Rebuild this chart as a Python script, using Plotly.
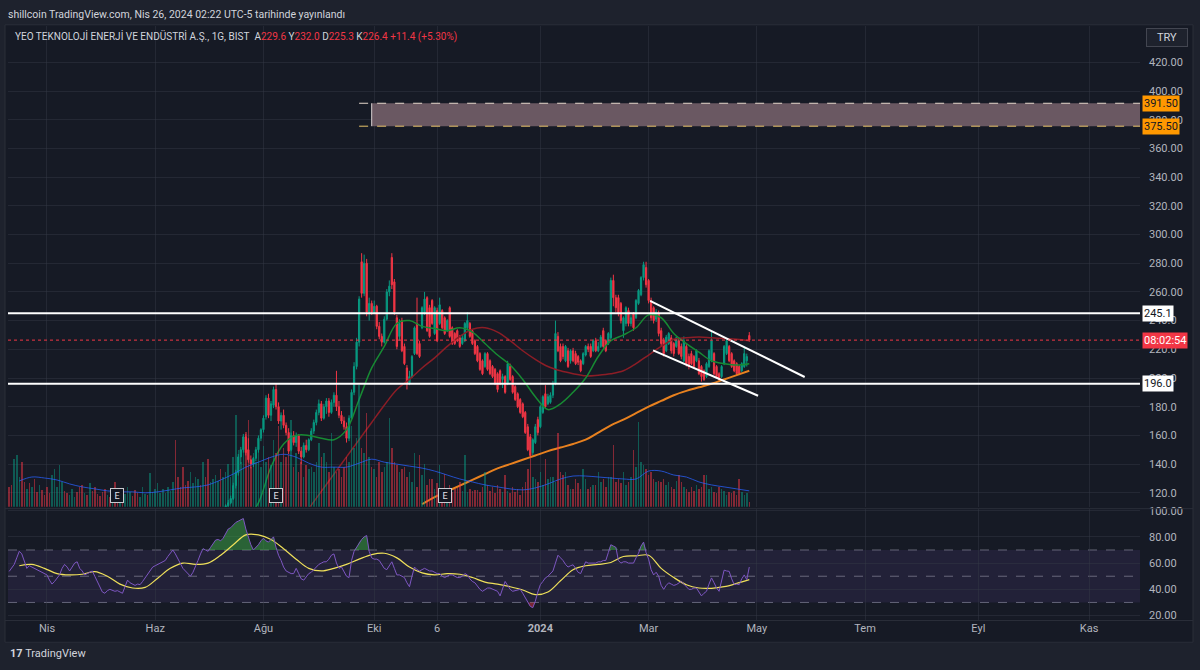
import pandas as pd
import numpy as np
import plotly.graph_objects as go

W, H = 1200, 670
LAST_DATE = "2024-04-26"

# ---------------- data ----------------
# RSI (14) per daily bar, ending on LAST_DATE
rsi_values = [
    53.7, 56, 59, 64, 69, 67, 62, 56, 58, 57,
    56, 55, 54.6, 53, 52, 51, 47, 44, 46, 49,
    51, 56, 59, 57, 54, 57, 60, 61, 56, 54,
    51, 52, 53, 54, 50, 46, 43, 38, 37, 39,
    40, 39, 38.5, 39, 38, 37, 42, 47, 45, 44,
    43, 44, 43.6, 46, 48.7, 51, 54, 57, 58, 59,
    60, 61, 62, 65, 68, 70, 67, 63, 59, 56,
    54, 52, 50, 53, 57, 62, 67, 71, 70, 69,
    72, 75, 77.6, 78, 77, 79, 82, 86, 87, 89,
    91, 92, 93, 94, 86, 79, 74, 70, 72, 74,
    77, 79, 77, 76, 78, 80, 72, 66, 62, 57,
    54, 53, 52, 52, 56, 52, 48, 47, 50, 52,
    53, 55, 57, 59, 60, 61, 61, 63, 66, 67,
    60, 56, 57, 54, 50, 49, 62, 69, 72, 76,
    78, 80, 81, 69, 64, 63, 63, 62, 59, 56,
    55, 58, 61, 56, 51, 51, 50, 49, 45, 42,
    50, 57, 55, 54, 55, 56, 55, 54, 54, 53,
    52, 52, 50, 49, 50, 51, 51, 50, 49, 49,
    50, 52, 51, 48, 46, 45, 42, 40, 38.5, 40,
    41, 41, 40, 39, 38.5, 35, 41, 46, 43, 40,
    38.5, 39, 40, 40, 37, 34, 30, 27, 26, 31,
    38, 43.6, 46, 48.7, 50, 52, 54, 60, 66, 64,
    62, 59, 57, 58, 58.7, 56, 53, 52, 57, 61,
    60, 60, 59.8, 60, 61, 61, 62, 62, 68, 74,
    73, 72, 62, 60, 61, 61, 60, 60, 60, 64,
    67.5, 73, 76, 68, 63, 55, 51, 53, 50, 43,
    40, 43, 45, 44, 43, 43.6, 45, 46, 44, 42,
    40, 40, 41, 41, 38, 35, 37, 38.5, 44, 48.7,
    45, 41, 38.5, 47, 54.6, 54, 53.7, 48, 43.6, 44,
    43.6, 48, 51, 47.4, 57,
]
# RSI-based moving average, one value every 5 bars (last = LAST_DATE)
rsi_ma_values = [
    58, 59, 56, 52, 51, 51.5, 53.5, 50, 44, 41,
    41.5, 48.5, 56, 60, 59, 60, 66, 74, 81.5, 81.5,
    78, 71, 63, 56, 54, 56, 59, 63, 66.5, 67.5,
    64, 57, 52.5, 51, 52, 51.5, 49, 45.5, 44, 42,
    39.5, 36, 38, 46.5, 55, 58, 59, 60.5, 65, 65.5,
    66, 56, 49, 43.5, 41, 40.8, 42, 44.5, 47.4,
]
# volume per bar (x100K lots)
volume_values = [
    20, 22, 48, 52, 30, 45, 25, 18, 24, 20,
    28, 15, 22, 17, 12, 20, 14, 32, 38, 20,
    42, 25, 16, 14, 12, 18, 10, 15, 20, 22,
    14, 12, 24, 16, 20, 13, 11, 15, 18, 12,
    10, 14, 25, 11, 16, 9, 13, 20, 15, 11,
    17, 14, 10, 20, 13, 12, 34, 15, 18, 24,
    14, 18, 14, 20, 16, 25, 68, 30, 20, 40,
    22, 26, 35, 24, 30, 28, 22, 45, 30, 48,
    25, 28, 32, 26, 38, 30, 35, 43, 30, 50,
    93, 58, 45, 70, 76, 88, 40, 55, 45, 60,
    40, 62, 45, 50, 42, 68, 55, 82, 45, 60,
    50, 52, 88, 40, 55, 35, 45, 30, 42, 38,
    40, 35, 45, 65, 50, 55, 45, 35, 75, 40,
    35, 38, 30, 40, 50, 45, 82, 60, 70, 123,
    60, 55, 95, 50, 40, 38, 30, 45, 35, 40,
    45, 90, 60, 45, 42, 35, 38, 40, 30, 35,
    25, 55, 20, 52, 32, 43, 22, 28, 28, 18,
    24, 42, 18, 33, 16, 22, 15, 18, 20, 25,
    16, 52, 15, 18, 16, 17, 17, 15, 20, 35,
    22, 16, 20, 14, 22, 18, 15, 32, 16, 14,
    20, 15, 18, 12, 20, 25, 38, 50, 30, 28,
    25, 35, 22, 48, 28, 30, 30, 25, 75, 35,
    32, 35, 22, 18, 18, 28, 24, 18, 38, 28,
    18, 20, 22, 22, 35, 25, 28, 20, 30, 30,
    63, 25, 28, 24, 35, 22, 25, 30, 58, 40,
    86, 45, 42, 38, 32, 35, 28, 25, 26, 25,
    28, 22, 25, 20, 18, 26, 32, 25, 20, 18,
    15, 20, 16, 22, 18, 20, 32, 32, 18, 20,
    15, 14, 20, 18, 16, 12, 15, 14, 16, 12,
    28, 15, 12, 14, 5,
]
# 20-bar volume average, one value every 5 bars
volume_ma_values = [
    26, 30, 29, 27, 23, 20, 18, 16, 15, 15,
    14, 15, 17, 19, 20, 22, 27, 33, 40, 45,
    50, 53, 50, 44, 40, 40, 40, 44, 48, 45,
    43, 41, 39, 36, 32, 28, 25, 22, 20, 18,
    17, 19, 23, 28, 31, 31, 30, 29, 28, 28,
    36, 36, 32, 30, 25, 22, 20, 18, 16,
]
# up/down of the early bars whose candles sit below the visible price range
early_volume_dir = ("rrgggrrgrg" "rrgrrrrggg" "ggrrgggrrr" "grgrrrrrrg" "rgrrgrgggr"
                    "rrgggrgggg" "ggggggrrrr" "rrggggrgrr" "ggggrg")

opens = [
    108, 111, 113, 116, 125, 134, 145, 150, 159, 150,
    143, 140, 144, 150, 158, 164, 173, 186, 174, 181,
    192, 180, 170, 174, 167, 162, 150, 160, 155, 160,
    149, 145, 153, 150, 157, 163, 169, 176, 182, 172,
    180, 184, 176, 183, 188, 180, 174, 170, 166, 158,
    172, 190, 208, 225, 281, 259, 280, 246, 252, 246,
    250, 236, 229, 225, 241, 260, 284, 267, 242, 229,
    240, 222, 207, 196, 201, 217, 238, 224, 235, 245,
    256, 249, 254, 231, 247, 238, 247, 242, 233, 249,
    235, 231, 233, 228, 224, 226, 235, 238, 233, 226,
    222, 217, 212, 208, 217, 212, 208, 206, 203, 205,
    199, 201, 196, 208, 201, 194, 189, 185, 182, 176,
    166, 159, 148, 155, 171, 166, 176, 189, 182, 183,
    188, 196, 229, 222, 222, 212, 219, 212, 219, 217,
    215, 212, 210, 216, 222, 222, 219, 226, 219, 222,
    233, 226, 224, 228, 268, 256, 256, 252, 233, 238,
    247, 238, 245, 242, 252, 258, 270, 277, 268, 254,
    249, 241, 245, 233, 226, 219, 224, 228, 224, 222,
    226, 222, 212, 222, 215, 217, 215, 212, 212, 208,
    205, 201, 208, 212, 217, 208, 203, 201, 210, 217,
    222, 217, 212, 210, 208, 205, 208, 212, 229.6,
]
highs = [
    112, 115, 118, 127, 136, 147, 152, 161, 161, 158,
    146, 145, 152, 160, 165, 174, 188, 189, 184, 194,
    196, 183, 176, 178, 169, 165, 162, 163, 162, 161,
    152, 155, 157, 158, 165, 171, 178, 185, 184, 182,
    186, 186, 185, 190, 205, 184, 177, 173, 169, 174,
    192, 211, 228, 257, 287, 286, 283, 256, 254, 254,
    251, 239, 231, 243, 262, 268, 287, 269, 244, 241,
    242, 224, 209, 205, 216, 236, 256, 226, 250, 260,
    257, 251, 255, 250, 249, 256, 248, 243, 241, 250,
    236, 232, 234, 230, 230, 239, 246, 239, 234, 227,
    223, 218, 213, 218, 218, 213, 209, 207, 204, 206,
    203, 202, 212, 210, 202, 195, 190, 186, 183, 177,
    168, 161, 158, 168, 173, 181, 188, 195, 189, 190,
    198, 240, 232, 224, 224, 223, 221, 220, 221, 219,
    216, 213, 218, 223, 224, 224, 227, 228, 225, 230,
    235, 227, 232, 270, 272, 258, 258, 253, 243, 250,
    249, 244, 246, 255, 262, 271, 281, 281, 269, 256,
    250, 248, 247, 235, 228, 230, 232, 230, 225, 229,
    228, 224, 229, 224, 217, 219, 216, 220, 214, 209,
    206, 211, 220, 233, 218, 209, 204, 209, 223, 227,
    223, 218, 213, 211, 209, 211, 222, 217, 232.0,
]
lows = [
    106, 109, 112, 115, 123, 132, 140, 148, 146, 141,
    137, 138, 142, 148, 156, 162, 171, 172, 170, 179,
    178, 168, 164, 165, 160, 147, 149, 153, 152, 147,
    140, 144, 148, 149, 156, 161, 167, 174, 170, 171,
    175, 173, 175, 180, 177, 172, 168, 164, 155, 156,
    170, 188, 206, 222, 256, 257, 243, 240, 244, 245,
    234, 227, 222, 224, 240, 257, 262, 244, 220, 226,
    218, 209, 192, 195, 200, 216, 216, 214, 234, 244,
    232, 228, 237, 230, 225, 237, 234, 230, 232, 228,
    223, 223, 225, 221, 223, 225, 234, 228, 223, 216,
    211, 205, 202, 207, 205, 202, 200, 195, 190, 195,
    193, 189, 195, 198, 189, 184, 179, 175, 172, 161,
    149, 145, 146, 154, 160, 165, 175, 179, 181, 182,
    186, 195, 218, 211, 213, 211, 207, 210, 211, 209,
    209, 204, 209, 215, 218, 214, 218, 218, 218, 221,
    221, 218, 223, 227, 250, 246, 243, 238, 228, 236,
    236, 236, 233, 241, 251, 257, 268, 263, 252, 240,
    238, 239, 229, 222, 215, 218, 223, 217, 215, 221,
    216, 213, 211, 208, 206, 209, 207, 211, 202, 197.5,
    198, 200, 207, 211, 202, 200, 197.5, 200, 209, 216,
    211, 207, 204, 202, 202, 204, 207, 208, 225.3,
]
closes = [
    111, 113, 116, 125, 134, 145, 150, 159, 148, 143,
    140, 144, 150, 158, 164, 172, 186, 174, 182, 192,
    180, 170, 174, 167, 162, 149, 160, 155, 160, 149,
    145, 153, 150, 157, 163, 169, 176, 182, 172, 180,
    184, 176, 183, 188, 180, 174, 170, 166, 158, 172,
    190, 208, 225, 255, 259, 280, 246, 252, 246, 250,
    236, 229, 225, 241, 260, 264, 265, 246, 222, 238,
    219, 210, 196, 201, 215, 235, 217, 215, 249, 255,
    233, 229, 238, 249, 226, 251, 235, 231, 240, 229,
    224, 224, 226, 222, 228, 238, 240, 229, 224, 217,
    212, 206, 203, 217, 206, 203, 201, 196, 192, 196,
    201, 190, 210, 199, 190, 185, 180, 176, 173, 162,
    150, 146, 157, 166, 162, 180, 187, 180, 187, 188,
    196, 231, 219, 212, 215, 222, 208, 219, 212, 210,
    211, 205, 217, 222, 220, 215, 226, 219, 222, 228.5,
    222, 219, 231, 268, 256, 249, 245, 240, 242, 249,
    238, 242, 235, 254, 261, 270, 279, 265, 254, 242,
    240, 246, 231, 224, 217, 228.5, 231, 219, 217, 228,
    217, 215, 226, 210, 208, 210, 208, 219, 203, 201,
    199, 210, 219, 226, 203, 201, 199, 208, 222, 226,
    212, 208, 205, 203, 203, 210, 217, 215, 226.4,
]
# moving averages, one value every 5 bars ending on LAST_DATE
ma_green = [
    100, 113, 138, 154, 160, 160, 158, 157, 164, 185,
    207, 222, 238, 240, 236, 234.5, 233, 235, 232, 224,
    216, 209, 199, 187, 178, 182, 190, 200, 215, 226,
    230, 235, 244, 242, 231, 224, 218, 212, 210, 209, 210,
]
ma_red = [
    109, 121, 133, 145, 157, 169, 181, 192, 199, 207,
    214, 222, 229, 234, 235, 232, 226, 219, 213, 208,
    205, 203, 201.5, 202, 203, 205, 210, 216, 222, 227,
    228, 228.5, 228, 227.5, 227, 226,
]
ma_orange = [
    112, 117, 121, 125, 129, 133, 137, 140, 143, 146,
    149, 151.5, 154, 157, 162, 167, 171, 175.5, 180, 184,
    188, 191, 193.5, 196, 199, 202, 205,
]
# drawings
level_lines = [245.1, 196.0]
zone_prices = [375.5, 391.5]
zone_line_start = "2023-09-22"
zone_start = "2023-09-29"
trend_upper_x = ["2024-03-01 14:00", "2024-05-28"]
trend_upper_y = [253.8, 200.7]
trend_lower_x = ["2024-03-04 19:00", "2024-05-01 12:00"]
trend_lower_y = [219.3, 187.6]
earnings_dates = ["2023-05-11", "2023-08-08", "2023-11-09"]
countdown_text = "08:02:54"
# axes
x_range = ["2023-03-10 12:30", "2024-11-29 05:00"]
time_ticks = ["2023-04-03", "2023-06-01", "2023-08-01", "2023-10-02", "2023-11-06",
              "2024-01-02", "2024-03-01", "2024-05-01", "2024-07-01", "2024-09-02", "2024-11-01"]
time_tick_text = ["Nis", "Haz", "Ağu", "Eki", "6", "<b>2024</b>", "Mar", "May", "Tem", "Eyl", "Kas"]
price_ticks = [120, 140, 160, 180, 200, 220, 240, 260, 280, 300, 320, 340, 360, 380, 400, 420]
price_tick_text = ["120.0", "140.0", "160.0", "180.0", "200.0", "220.0", "240.0", "260.00",
                   "280.00", "300.00", "320.00", "340.00", "360.00", "380.00", "400.00", "420.00"]
price_range = [110.3, 445.5]
rsi_ticks = [20, 40, 60, 80, 100]
rsi_tick_text = ["20.00", "40.00", "60.00", "80.00", "100.00"]
rsi_levels = [70, 50, 30]
rsi_range = [17, 101.5]

# ---------------- styling ----------------
BG = "#161a25"
PAPER = "#1e222d"
GRID = "rgba(54,58,72,0.45)"
TXT = "#b2b5be"
UP, DN = "#089981", "#f23645"
UPV, DNV = "rgba(8,153,129,0.5)", "rgba(242,54,69,0.5)"
FONT = "Roboto, 'Liberation Sans', sans-serif"


def px_x(px):
    return px / W


def px_y(py):
    return 1 - py / H


def bar_dates(n):
    return pd.bdate_range(end=LAST_DATE, periods=n)


def step_dates(n, step=5):
    return pd.bdate_range(end=LAST_DATE, periods=step * (n - 1) + 1)[::step]


n_c = len(closes)
cdates = bar_dates(n_c)
vdates = bar_dates(len(volume_values))
rdates = bar_dates(len(rsi_values))

cdirs = ["g" if c >= o else "r" for o, c in zip(opens, closes)]
need = len(volume_values) - n_c
early = (("r" * max(need, 0)) + early_volume_dir)[-need:] if need > 0 else ""
dirs = (list(early) + cdirs)[-len(volume_values):]
vol_colors = [UPV if d == "g" else DNV for d in dirs]

fig = go.Figure()

# volume
fig.add_trace(go.Bar(x=vdates, y=volume_values, marker=dict(color=vol_colors, line=dict(width=0)),
                     width=0.6 * 86400000, xaxis="x", yaxis="y2", hoverinfo="skip"))
fig.add_trace(go.Scatter(x=step_dates(len(volume_ma_values)), y=volume_ma_values, mode="lines",
                         line=dict(color="rgba(41,98,255,0.75)", width=1, shape="spline"),
                         xaxis="x", yaxis="y2", hoverinfo="skip"))
# candles
fig.add_trace(go.Candlestick(x=cdates, open=opens, high=highs, low=lows, close=closes,
                             increasing=dict(line=dict(color=UP, width=1), fillcolor=UP),
                             decreasing=dict(line=dict(color=DN, width=1), fillcolor=DN),
                             whiskerwidth=0, xaxis="x", yaxis="y", hoverinfo="skip"))
# moving averages
for vals, col, w in [(ma_orange, "#e8811f", 2), (ma_red, "#8c1d26", 1.5), (ma_green, "#178a33", 1.5)]:
    fig.add_trace(go.Scatter(x=step_dates(len(vals)), y=vals, mode="lines",
                             line=dict(color=col, width=w, shape="spline"),
                             xaxis="x", yaxis="y", hoverinfo="skip"))
# trend lines
for tx, ty in [(trend_upper_x, trend_upper_y), (trend_lower_x, trend_lower_y)]:
    fig.add_trace(go.Scatter(x=tx, y=ty, mode="lines", line=dict(color="#ffffff", width=2),
                             xaxis="x", yaxis="y", hoverinfo="skip"))

# RSI fills
rsi_arr = np.array(rsi_values, dtype=float)
fig.add_trace(go.Scatter(x=rdates, y=[rsi_levels[0]] * len(rdates), mode="lines", line=dict(width=0),
                         xaxis="x2", yaxis="y3", hoverinfo="skip"))
fig.add_trace(go.Scatter(x=rdates, y=np.maximum(rsi_arr, rsi_levels[0]), mode="lines", line=dict(width=0),
                         fill="tonexty", fillcolor="rgba(60,160,70,0.55)", xaxis="x2", yaxis="y3",
                         hoverinfo="skip"))
fig.add_trace(go.Scatter(x=rdates, y=[rsi_levels[2]] * len(rdates), mode="lines", line=dict(width=0),
                         xaxis="x2", yaxis="y3", hoverinfo="skip"))
fig.add_trace(go.Scatter(x=rdates, y=np.minimum(rsi_arr, rsi_levels[2]), mode="lines", line=dict(width=0),
                         fill="tonexty", fillcolor="rgba(242,54,69,0.45)", xaxis="x2", yaxis="y3",
                         hoverinfo="skip"))
fig.add_trace(go.Scatter(x=step_dates(len(rsi_ma_values)), y=rsi_ma_values, mode="lines",
                         line=dict(color="#efe05a", width=1.2, shape="spline"),
                         xaxis="x2", yaxis="y3", hoverinfo="skip"))
fig.add_trace(go.Scatter(x=rdates, y=rsi_values, mode="lines", line=dict(color="#7e57c2", width=1),
                         xaxis="x2", yaxis="y3", hoverinfo="skip"))

shapes = []
# chart frame background
shapes.append(dict(type="rect", xref="paper", yref="paper", x0=px_x(5), x1=px_x(1193),
                   y0=px_y(645), y1=px_y(21), fillcolor=BG, line=dict(color="#2a2e39", width=1),
                   layer="below"))
# pane separators
for yy in [510, 623]:
    shapes.append(dict(type="line", xref="paper", yref="paper", x0=px_x(5), x1=px_x(1193),
                       y0=px_y(yy), y1=px_y(yy), line=dict(color="#2a2e39", width=1)))
# zone rectangle
shapes.append(dict(type="rect", xref="x", yref="y", x0=zone_start, x1=x_range[1],
                   y0=zone_prices[0], y1=zone_prices[1], fillcolor="#6a5862",
                   line=dict(width=0), layer="above"))
shapes.append(dict(type="line", xref="x", yref="y", x0=zone_start, x1=zone_start,
                   y0=zone_prices[0], y1=zone_prices[1], line=dict(color="#d8d0d0", width=1)))
shapes.append(dict(type="line", xref="x", yref="y", x0=zone_line_start, x1=x_range[1],
                   y0=zone_prices[1], y1=zone_prices[1], line=dict(color="#e6d8cc", width=1, dash="dash")))
shapes.append(dict(type="line", xref="x", yref="y", x0=zone_line_start, x1=x_range[1],
                   y0=zone_prices[0], y1=zone_prices[0], line=dict(color="#e8c46a", width=1, dash="dash")))
# horizontal levels
for lv in level_lines:
    shapes.append(dict(type="line", xref="paper", yref="y", x0=px_x(8), x1=px_x(1140),
                       y0=lv, y1=lv, line=dict(color="#ffffff", width=2)))
# last price dotted line
shapes.append(dict(type="line", xref="paper", yref="y", x0=px_x(8), x1=px_x(1140),
                   y0=closes[-1], y1=closes[-1], line=dict(color=DN, width=1, dash="dot")))
# RSI band + levels
shapes.append(dict(type="rect", xref="paper", yref="y3", x0=px_x(8), x1=px_x(1140),
                   y0=rsi_levels[2], y1=rsi_levels[0], fillcolor="rgba(126,87,194,0.12)",
                   line=dict(width=0), layer="below"))
for lv in rsi_levels:
    shapes.append(dict(type="line", xref="paper", yref="y3", x0=px_x(8), x1=px_x(1140),
                       y0=lv, y1=lv, line=dict(color="rgba(150,150,170,0.6)", width=1, dash="dash"),
                       layer="below"))

annotations = []
annotations.append(dict(xref="paper", yref="paper", x=px_x(6), y=px_y(11), xanchor="left", yanchor="middle",
                        text="shillcoin TradingView.com, Nis 26, 2024 02:22 UTC-5 tarihinde yayınlandı",
                        showarrow=False, font=dict(family=FONT, size=10.5, color="#d1d4dc")))
chg = closes[-1] - closes[-2]
pct = chg / closes[-2] * 100
red = lambda s: f"<span style='color:{DN}'>{s}</span>"
legend_txt = ("YEO TEKNOLOJİ ENERJİ VE ENDÜSTRİ A.Ş., 1G, BIST&nbsp;&nbsp;"
              f"A{red(f'{opens[-1]:.1f}')}&nbsp;Y{red(f'{highs[-1]:.1f}')}&nbsp;"
              f"D{red(f'{lows[-1]:.1f}')}&nbsp;K{red(f'{closes[-1]:.1f}')}&nbsp;"
              + red(f"{chg:+.1f} ({pct:+.2f}%)"))
annotations.append(dict(xref="paper", yref="paper", x=px_x(13), y=px_y(33), xanchor="left", yanchor="middle",
                        text=legend_txt, showarrow=False,
                        font=dict(family=FONT, size=10, color="#d1d4dc")))
annotations.append(dict(xref="paper", yref="paper", x=px_x(1167), y=px_y(34), xanchor="center",
                        yanchor="middle", text="TRY", showarrow=False, width=38, height=15,
                        bgcolor="#1e222d", bordercolor="#434651", borderwidth=1, borderpad=1,
                        font=dict(family=FONT, size=11, color="#d1d4dc")))
# price labels
for val, txt, bg, fc in [(zone_prices[1], f"{zone_prices[1]:.2f}", "#ff9800", "#131722"),
                         (zone_prices[0], f"{zone_prices[0]:.2f}", "#ff9800", "#131722"),
                         (level_lines[0], f"{level_lines[0]:.1f}", "#ffffff", "#131722"),
                         (closes[-1], countdown_text, DN, "#ffffff"),
                         (level_lines[1], f"{level_lines[1]:.1f}", "#ffffff", "#131722")]:
    annotations.append(dict(xref="paper", yref="y", x=px_x(1142), y=val, xanchor="left", yanchor="middle",
                            text=txt, showarrow=False, bgcolor=bg, borderpad=1,
                            font=dict(family=FONT, size=11, color=fc)))
# earnings markers
for d in earnings_dates:
    annotations.append(dict(xref="x", yref="paper", x=d, y=px_y(497), xanchor="center", yanchor="middle",
                            text="E", showarrow=False, width=10, height=11, bgcolor="#131722",
                            bordercolor="#c8cad0", borderwidth=1, borderpad=1,
                            font=dict(family=FONT, size=9, color="#e0e3eb")))
annotations.append(dict(xref="paper", yref="paper", x=px_x(8), y=px_y(656), xanchor="left", yanchor="middle",
                        text="<b>17</b> TradingView", showarrow=False,
                        font=dict(family=FONT, size=11, color="#d1d4dc")))

axis_common = dict(type="date", range=x_range, rangebreaks=[dict(bounds=["sat", "mon"])],
                   tickvals=time_ticks, showgrid=True, gridcolor=GRID, gridwidth=1, zeroline=False,
                   showline=False, ticks="", fixedrange=True)

fig.update_layout(
    width=W, height=H, margin=dict(l=0, r=0, t=0, b=0),
    paper_bgcolor=PAPER, plot_bgcolor="rgba(0,0,0,0)",
    showlegend=False, hovermode=False, bargap=0,
    font=dict(family=FONT, size=11, color=TXT),
    xaxis=dict(domain=[px_x(8), px_x(1140)], anchor="y", showticklabels=False,
               rangeslider=dict(visible=False), **axis_common),
    xaxis2=dict(domain=[px_x(8), px_x(1140)], anchor="y3", matches="x", showticklabels=True,
                ticktext=time_tick_text, tickfont=dict(family=FONT, size=11, color=TXT), **axis_common),
    yaxis=dict(domain=[px_y(508), px_y(22)], anchor="x", range=price_range, side="right",
               tickvals=price_ticks, ticktext=price_tick_text, showgrid=True, gridcolor=GRID,
               zeroline=False, ticks="", ticklabelstandoff=8, fixedrange=True,
               tickfont=dict(family=FONT, size=11, color=TXT)),
    yaxis2=dict(overlaying="y", anchor="x", range=[0, 486], visible=False, fixedrange=True),
    yaxis3=dict(domain=[px_y(622), px_y(510)], anchor="x2", range=rsi_range, side="right",
                tickvals=rsi_ticks, ticktext=rsi_tick_text, showgrid=True, gridcolor=GRID,
                zeroline=False, ticks="", ticklabelstandoff=8, fixedrange=True,
                tickfont=dict(family=FONT, size=11, color=TXT)),
    shapes=shapes, annotations=annotations,
)

fig.write_html("out.html", config={"displayModeBar": False})
